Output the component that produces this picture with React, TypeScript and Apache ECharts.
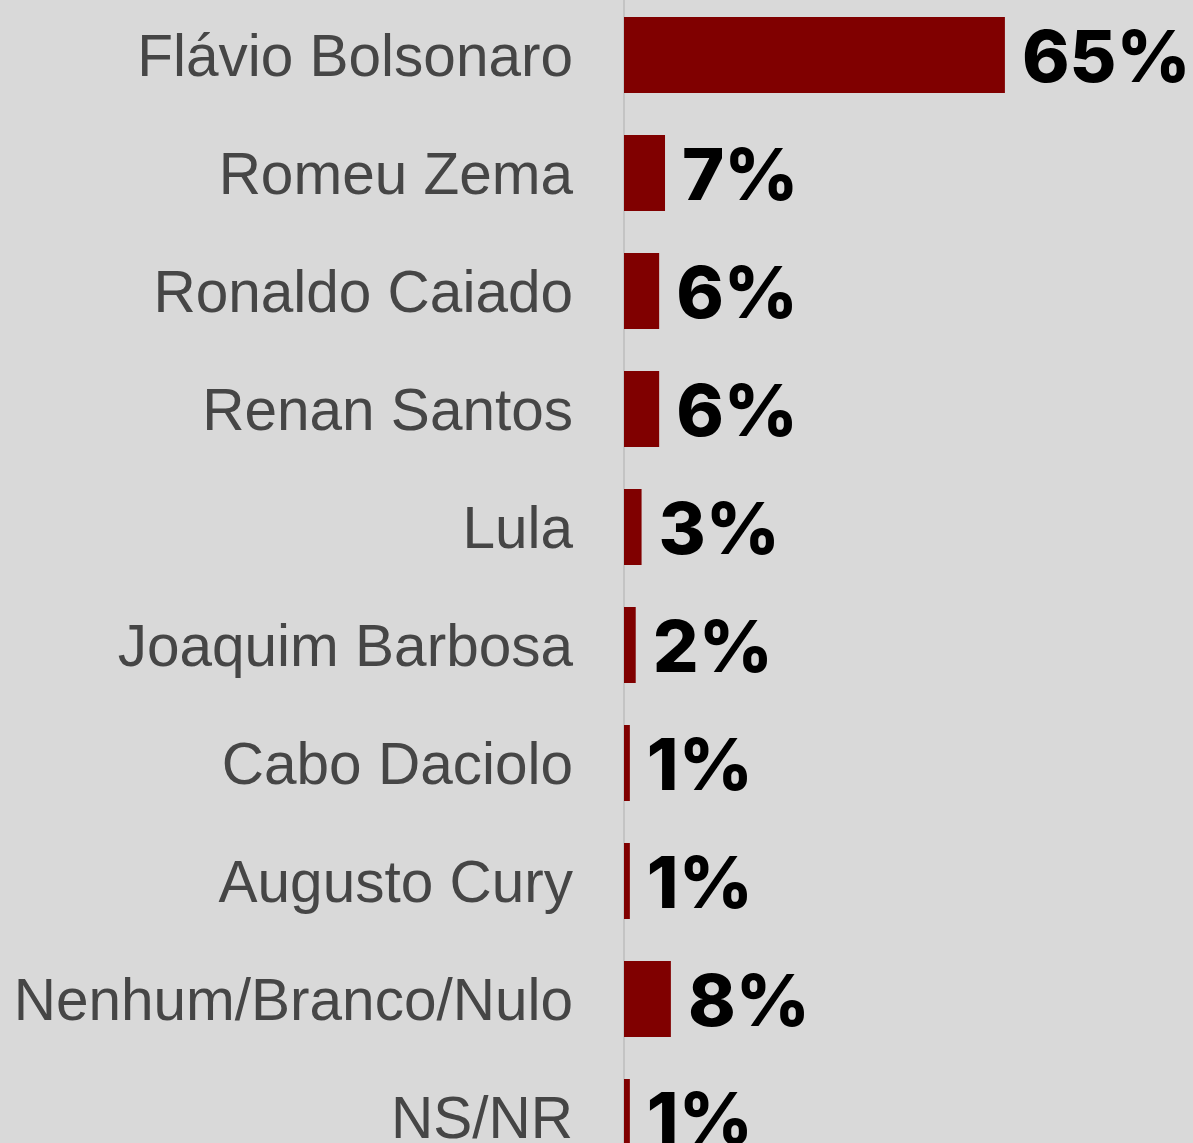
import React, { useEffect, useRef } from "react";
import * as echarts from "echarts";

const categories = [
  "Flávio Bolsonaro",
  "Romeu Zema",
  "Ronaldo Caiado",
  "Renan Santos",
  "Lula",
  "Joaquim Barbosa",
  "Cabo Daciolo",
  "Augusto Cury",
  "Nenhum/Branco/Nulo",
  "NS/NR",
];
const values = [65, 7, 6, 6, 3, 2, 1, 1, 8, 1];

export default function App() {
  const ref = useRef<HTMLDivElement>(null);
  useEffect(() => {
    if (!ref.current) return;
    const chart = echarts.init(ref.current, undefined, { renderer: "svg" });
    chart.setOption({
      animation: false,
      backgroundColor: "#d9d9d9",
      grid: { left: 624, top: 0, width: 586, height: 1180, containLabel: false },
      xAxis: {
        type: "value",
        min: 0,
        max: 100,
        show: false,
      },
      yAxis: {
        type: "category",
        data: categories,
        inverse: true,
        axisTick: { show: false },
        axisLine: { show: true, lineStyle: { color: "#c4c4c4", width: 2 } },
        splitLine: { show: false },
        axisLabel: {
          margin: 51,
          fontSize: 58.5,
          color: "#464646",
          fontFamily: "Liberation Sans",
        },
      },
      series: [
        {
          type: "bar",
          data: values,
          barWidth: 76,
          itemStyle: { color: "#800000" },
          label: {
            show: true,
            position: "right",
            distance: 17,
            formatter: "{c}%",
            fontSize: 72,
            fontWeight: 800,
            color: "#000",
            fontFamily: "Inter",
          },
        },
      ],
    });
    return () => chart.dispose();
  }, []);
  return (
    <div
      style={{
        position: "absolute",
        left: 0,
        top: 0,
        width: 1193,
        height: 1143,
        overflow: "hidden",
        background: "#d9d9d9",
      }}
    >
      <div
        ref={ref}
        style={{ position: "absolute", left: 0, top: -4, width: 1300, height: 1184 }}
      />
    </div>
  );
}
